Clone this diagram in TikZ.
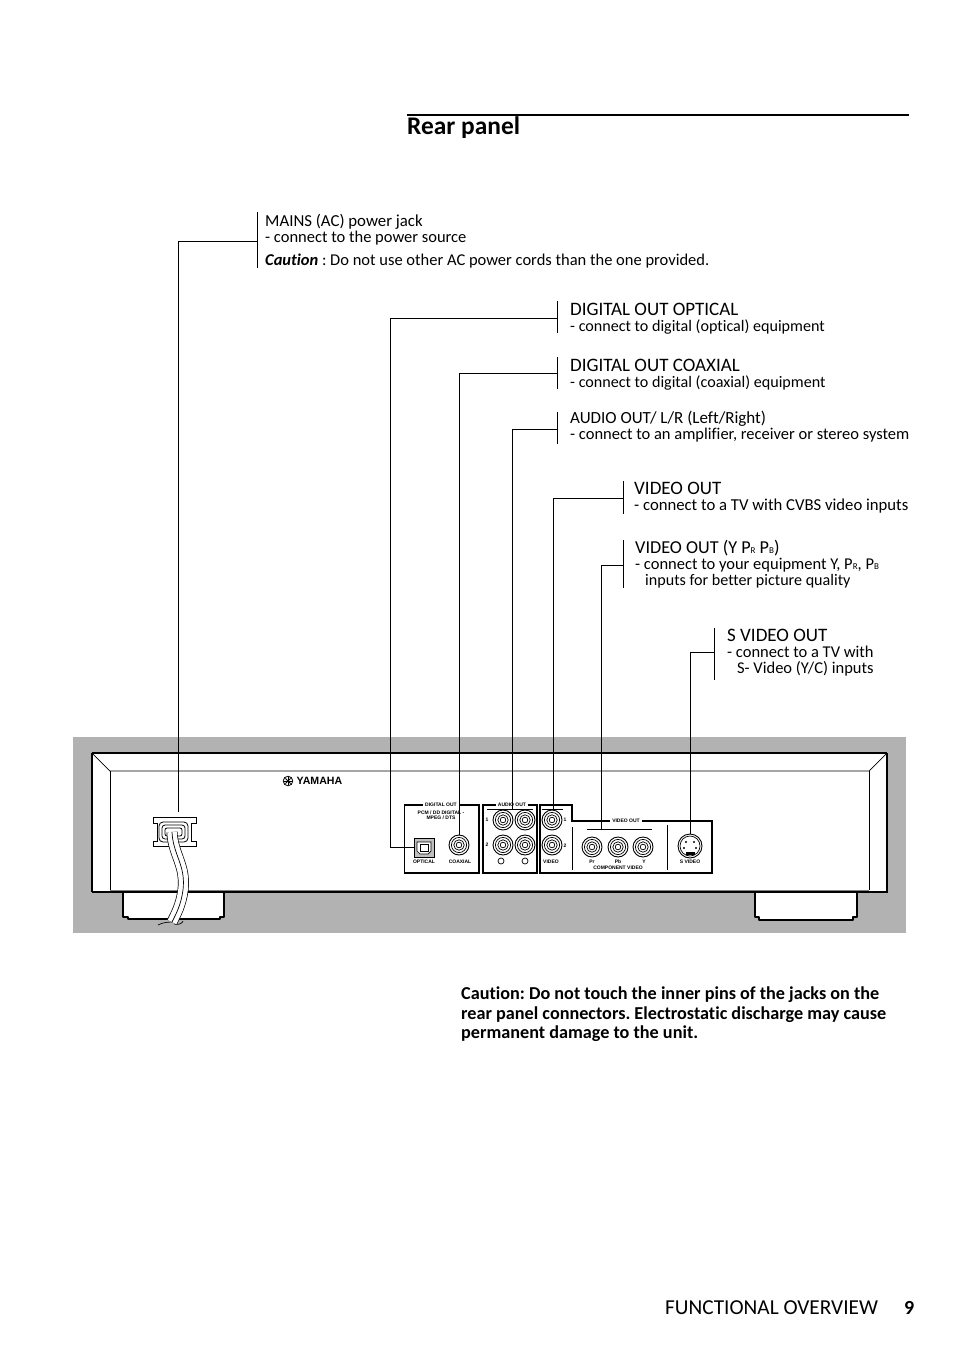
\documentclass[tikz,border=0pt]{standalone}
\usepackage{fontspec}
\setmainfont{Carlito}[Ligatures={NoCommon}]
\newfontfamily\panelfont{Liberation Sans}
\frenchspacing
\newcommand{\pcap}[1]{{\fontsize{9}{9}\selectfont #1}}
\newcommand{\capline}[1]{{\fontsize{19}{16}\selectfont #1}}
\newcommand{\midline}[1]{{\fontsize{18.2}{16}\selectfont #1}}
\newcommand{\smline}[1]{{\fontsize{16.1}{16}\selectfont #1}}
\tikzset{
  wire/.style={line width=0.8pt},
  bar/.style={line width=0.8pt},
  calltext/.style={anchor=north west, inner sep=0pt, align=left, font=\fontsize{16.5}{16}\selectfont},
  jack/.style={circle, draw, line width=0.9pt, fill=white, minimum size=20pt, inner sep=0pt},
  tinytext/.style={inner sep=0pt, align=center, font=\panelfont\bfseries\fontsize{5}{5}\selectfont},
  housing/.style={line width=1.3pt, line join=round},
  edge/.style={line width=0.7pt}
}
\begin{document}
\begin{tikzpicture}[x=1pt, y=-1pt]
\useasboundingbox (0,0) rectangle (954,1351);

% Heading
\draw[line width=2pt] (407,115) -- (909,115);
\node[inner sep=0pt, anchor=base west, font=\bfseries\fontsize{25.4}{25}\selectfont] (title) at (407,135) {Rear panel};

% Grey band
\fill[black!30] (73,737) rectangle (906,933);

% Feet
\draw[housing, fill=white] (123,892) -- (123,917) -- (128,917) -- (128,919) -- (220,919) -- (220,917) -- (224,917) -- (224,892);
\draw[housing, fill=white] (755,892) -- (755,917) -- (759,917) -- (759,920) -- (853,920) -- (853,917) -- (857,917) -- (857,892);

% Housing
\fill[white] (92,753) rectangle (887,892);
\draw[line width=1.3pt] (92,753) -- (887,753);
\draw[line width=1.8pt] (92,892) -- (92,753);
\draw[line width=1.8pt] (887,753) -- (887,892) -- (92,892);
\draw[edge] (92,753) -- (110,771) -- (869,771) -- (887,753);
\draw[edge] (110,771) -- (110,890);
\draw[edge] (869,771) -- (869,890);
\draw[edge, black!50] (110,890) -- (869,890);

% Logo
\draw[line width=0.8pt] (288,781) circle (4.8pt);
\foreach \a in {0,45,...,315}
  \draw[line width=0.8pt] (288,781) -- ++(\a:3.6pt);
\node[inner sep=0pt, anchor=west, font=\panelfont\bfseries\fontsize{10.6}{12}\selectfont] (logo) at (296.5,781) {YAMAHA};

% Panels
\draw[line width=1.4pt] (404.5,805) -- (404.5,873) -- (479,873) -- (479,805) -- cycle;
\draw[line width=1.4pt] (483,805) -- (483,873) -- (537,873) -- (537,805) -- cycle;
\draw[line width=1.4pt] (540,873) -- (540,805) -- (572,805) -- (572,821) -- (712,821) -- (712,873) -- cycle;
\draw[line width=0.8pt] (572,827) -- (572,870);
\draw[line width=0.8pt] (667,825) -- (667,870);
\draw[line width=0.8pt] (487,809) -- (533,809);
\draw[line width=0.8pt] (542,809) -- (563,809);
\draw[line width=0.8pt] (587,829) -- (652,829);

% Panel titles
\node[tinytext, fill=white, inner xsep=2pt] (digitalout) at (441,805) {DIGITAL OUT};
\node[tinytext, fill=white, inner xsep=2pt] (audioout) at (512,805) {AUDIO OUT};
\node[tinytext, fill=white, inner xsep=2pt] (videoout) at (626,821) {VIDEO OUT};
\node[tinytext] (formats) at (441,815.5) {PCM / DD DIGITAL -\\MPEG / DTS};

% Jacks
\foreach \name/\x/\y in {coaxial/459/845, audioa/503/820, audiob/525/820, audioc/503/845, audiod/525/845, videoa/552/820, videob/552/845, jackpr/592/847, jackpb/618/847, jacky/643/847}
{
  \node[jack] (\name) at (\x,\y) {};
  \foreach \r in {7.6,5.2,2.8}
    \draw[line width=0.7pt] (\name) circle (\r pt);
}
\draw[line width=0.7pt] (501,861) circle (3pt);
\draw[line width=0.7pt] (525,861) circle (3pt);

% Optical jack
\node[draw, fill=black!25, line width=0.9pt, minimum width=20pt, minimum height=19pt, inner sep=0pt] (optical) at (424,847.5) {};
\draw[line width=0.7pt, fill=white] (417,842) -- (431,842) -- (431,851) -- (428,854) -- (420,854) -- (417,851) -- cycle;
\draw[line width=0.7pt, fill=white] (420,844.5) rectangle (428,851.5);

% S video jack
\node[jack, minimum size=24pt] (svideo) at (690,846) {};
\draw[line width=0.7pt] (svideo) circle (10pt);
\fill (685.5,852) rectangle (694.5,855);
\foreach \dx/\dy in {-4/-4, 4/-4, -6/2, 6/2}
  \fill (690+\dx,846+\dy) circle (1.1pt);

% Jack labels
\node[tinytext] (opticaltext) at (424,861.5) {OPTICAL};
\node[tinytext] (coaxialtext) at (460,861.5) {COAXIAL};
\node[tinytext] (videotext) at (551,861.5) {VIDEO};
\node[tinytext] (prtext) at (592,861.5) {Pr};
\node[tinytext] (pbtext) at (618,861.5) {Pb};
\node[tinytext] (ytext) at (644,861.5) {Y};
\node[tinytext] (svideotext) at (690,861.5) {S VIDEO};
\node[tinytext] (componenttext) at (618,867.5) {COMPONENT VIDEO};
\node[tinytext] (onea) at (487,820) {1};
\node[tinytext] (twoa) at (487,845) {2};
\node[tinytext] (oneb) at (565,820) {1};
\node[tinytext] (twob) at (565,846) {2};

% Power inlet
\draw[line width=1pt, fill=white] (153,817) -- (196,817) -- (196,823) -- (191,823) -- (191,841) -- (196,841) -- (196,846) -- (153,846) -- (153,841) -- (157,841) -- (157,823) -- (153,823) -- cycle;
\draw[line width=0.8pt, rounded corners=4pt] (159,822) rectangle (188,842);
\draw[line width=0.8pt, rounded corners=3pt] (162,825) rectangle (185,839);
\draw[line width=0.8pt, rounded corners=2pt] (165,828) rectangle (182,836);

% Power cord
\draw[line width=0.7pt] (158,925) .. controls (163,922) and (170,922) .. (174,922);
\draw[line width=0.7pt] (174,924) .. controls (178,925) and (182,924) .. (183,921);
\draw[line width=11pt] (172,832) .. controls (173,855) and (186,865) .. (183,890) .. controls (181,905) and (176,914) .. (172,922);
\draw[line width=9.6pt, white] (172,832) .. controls (173,855) and (186,865) .. (183,890) .. controls (181,905) and (176,914) .. (172,922);
\draw[line width=0.7pt] (172,832) .. controls (173,855) and (186,865) .. (183,890) .. controls (181,905) and (176,914) .. (172,922);

% Call-out texts
\node[calltext] (mainstext) at (265,214.5) {{\fontsize{16.8}{16}\selectfont MAINS (AC) power jack}\\- connect to the power source\\[7pt]\textbf{\textit{Caution}} : Do not use other AC power cords than the one provided.};
\node[calltext] (opticalnote) at (570,303) {\capline{DIGITAL OUT OPTICAL}\\\smline{- connect to digital (optical) equipment}};
\node[calltext] (coaxialnote) at (570,359) {\capline{DIGITAL OUT COAXIAL}\\\smline{- connect to digital (coaxial) equipment}};
\node[calltext] (audionote) at (570,411) {{\fontsize{17}{16}\selectfont AUDIO OUT/ L/R (Left/Right)}\\- connect to an amplifier, receiver or stereo system};
\node[calltext] (videonote) at (634,482) {\capline{VIDEO OUT}\\{\fontsize{16.7}{16}\selectfont - connect to a TV with CVBS video inputs}};
\node[calltext] (ypbprnote) at (635,539.5) {\midline{VIDEO OUT (Y P\pcap{R} P\pcap{B})}\\- connect to your equipment Y, P\pcap{R}, P\pcap{B}\\\hspace*{10pt}\smline{inputs for better picture quality}};
\node[calltext] (svideonote) at (727,628.5) {\capline{S VIDEO OUT}\\- connect to a TV with\\\hspace*{10pt}S- Video (Y/C) inputs};

% Brackets
\draw[bar] (257,212) -- (257,268);
\draw[bar] (557,301) -- (557,333);
\draw[bar] (557,357) -- (557,389);
\draw[bar] (557,412) -- (557,444);
\draw[bar] (623,481) -- (623,514);
\draw[bar] (623,540) -- (623,588);
\draw[bar] (714,628) -- (714,680);

% Connector ends
\coordinate (mainsbar) at (257,241);
\coordinate (mainsend) at (178,812);
\coordinate (opticalbar) at (557,318);
\coordinate (coaxialbar) at (557,373);
\coordinate (audiobar) at (557,429);
\coordinate (audioend) at (512,809);
\coordinate (videobar) at (623,498);
\coordinate (videoend) at (553.5,809);
\coordinate (ypbprbar) at (623,565);
\coordinate (ypbprend) at (601.5,829);
\coordinate (svideobar) at (714,652);

% Connectors
\draw[wire] (mainsbar) -| (mainsend);
\draw[wire] (opticalbar) -| (390,847.5) -- (optical.west);
\draw[wire] (coaxialbar) -| (coaxial.north);
\draw[wire] (audiobar) -| (audioend);
\draw[wire] (videobar) -| (videoend);
\draw[wire] (ypbprbar) -| (ypbprend);
\draw[wire] (svideobar) -| (svideo.north);

% Warning
\node[inner sep=0pt, anchor=north west, align=left, font=\bfseries\fontsize{18.2}{19.5}\selectfont] (warning) at (461,987) {Caution: Do not touch the inner pins of the jacks on the\\rear panel connectors. Electrostatic discharge may cause\\permanent damage to the unit.};

% Footer
\node[inner sep=0pt, anchor=base west, font=\fontsize{21.3}{21}\selectfont] (footer) at (665,1314) {FUNCTIONAL OVERVIEW};
\node[inner sep=0pt, anchor=base west, font=\bfseries\fontsize{20}{20}\selectfont] (pagenum) at (904,1314) {9};

\end{tikzpicture}
\end{document}
